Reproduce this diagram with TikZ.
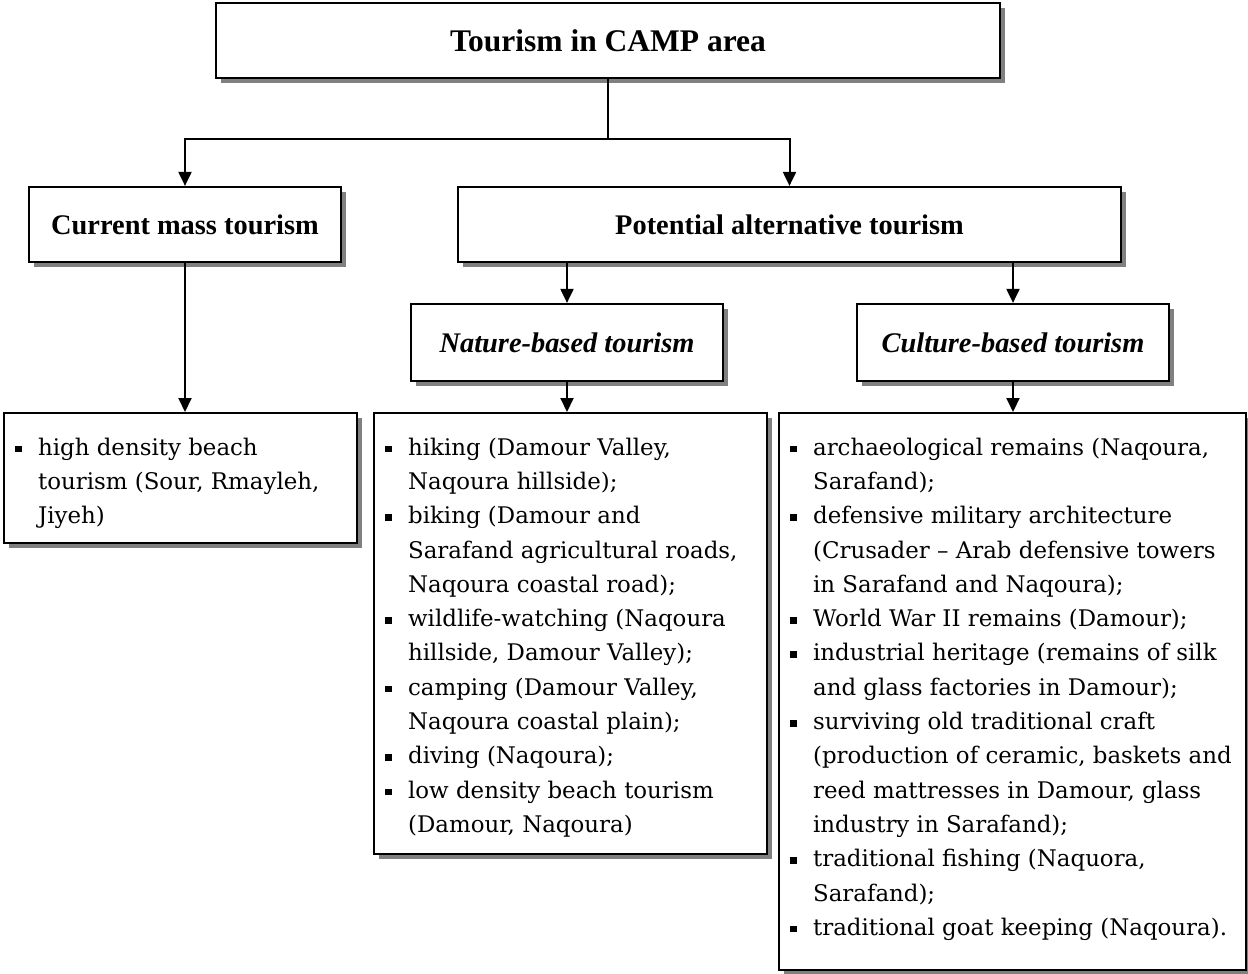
\documentclass[tikz,border=0pt]{standalone}
\usepackage{fontspec}
\setmainfont{DejaVu Serif}
\newfontfamily\headfont{Liberation Serif}
\usetikzlibrary{shadows,arrows.meta}
\definecolor{shade}{HTML}{808080}

% one bulleted entry; lines are broken by hand with \\ and hang under the text
\newcommand{\bitem}[1]{\par\noindent\hangindent=23pt\hangafter=1%
  \strut\makebox[23pt][l]{\rule[3pt]{6.5pt}{6.5pt}}#1\par}
% a list of entries in a frame of the given text width and height
\newcommand{\entrylist}[3]{\makebox[#1][l]{\parbox[c][#2][t]{700pt}{%
  \fontsize{22.9}{34.3}\selectfont\parindent=0pt\parskip=0pt
  \rightskip=0pt plus 1fil\relax
  \vspace*{18pt}#3}}}

\tikzset{
  box/.style={rectangle, draw=black, line width=2.2pt, fill=white, inner sep=0pt,
    drop shadow={shadow xshift=5pt, shadow yshift=-5pt, fill=shade, opacity=1}},
  headbox/.style={box, minimum height=75pt, align=center,
    font=\headfont\fontsize{28.4}{32}\selectfont\bfseries},
  subbox/.style={headbox, minimum height=77pt,
    font=\headfont\fontsize{28.4}{32}\selectfont\bfseries\itshape},
  listbox/.style={box, anchor=north west, inner xsep=11pt, inner ysep=0pt},
  link/.style={line width=2pt},
  arr/.style={link, -{Triangle[length=14pt,width=13pt]}},
}

\begin{document}
\begin{tikzpicture}[x=1pt,y=-1pt]
\useasboundingbox (0,0) rectangle (1248,974);

% headings
\node[headbox, minimum width=784pt, font=\headfont\fontsize{31.5}{36}\selectfont\bfseries]
  (top) at (608,40.5) {Tourism in CAMP area};
\node[headbox, minimum width=312pt] (cur) at (185,224.5) {Current mass tourism};
\node[headbox, minimum width=663pt] (pot) at (789.5,224.5) {Potential alternative tourism};
\node[subbox, minimum width=312pt] (nat) at (567,342.5) {Nature-based tourism};
\node[subbox, minimum width=312pt] (cul) at (1013,342.5) {Culture-based tourism};

% lists
\node[listbox] (l1) at (3,412) {\entrylist{331pt}{130pt}{%
  \bitem{high density beach\\ tourism (Sour, Rmayleh,\\ Jiyeh)}}};

\node[listbox] (l2) at (373,412) {\entrylist{371pt}{441pt}{%
  \bitem{hiking (Damour Valley,\\ Naqoura hillside);}
  \bitem{biking (Damour and\\ Sarafand agricultural roads,\\ Naqoura coastal road);}
  \bitem{wildlife-watching (Naqoura\\ hillside, Damour Valley);}
  \bitem{camping (Damour Valley,\\ Naqoura coastal plain);}
  \bitem{diving (Naqoura);}
  \bitem{low density beach tourism\\ (Damour, Naqoura)}}};

\node[listbox] (l3) at (778,412) {\entrylist{445pt}{557pt}{%
  \bitem{archaeological remains (Naqoura,\\ Sarafand);}
  \bitem{defensive military architecture\\ (Crusader – Arab defensive towers\\ in Sarafand and Naqoura);}
  \bitem{World War II remains (Damour);}
  \bitem{industrial heritage (remains of silk\\ and glass factories in Damour);}
  \bitem{surviving old traditional craft\\ (production of ceramic, baskets and\\ reed mattresses in Damour, glass\\ industry in Sarafand);}
  \bitem{traditional fishing (Naquora,\\ Sarafand);}
  \bitem{traditional goat keeping (Naqoura).}}};

% connectors
\coordinate (split) at (608,139);
\draw[link] (top.south) -- (split);
\draw[arr] (split) -| (cur.north);
\draw[arr] (split) -| (pot.north);
\draw[arr] (cur.south) -- (cur.south |- l1.north);
\draw[arr] (pot.south -| nat.north) -- (nat.north);
\draw[arr] (pot.south -| cul.north) -- (cul.north);
\draw[arr] (nat.south) -- (nat.south |- l2.north);
\draw[arr] (cul.south) -- (cul.south |- l3.north);
\end{tikzpicture}
\end{document}
